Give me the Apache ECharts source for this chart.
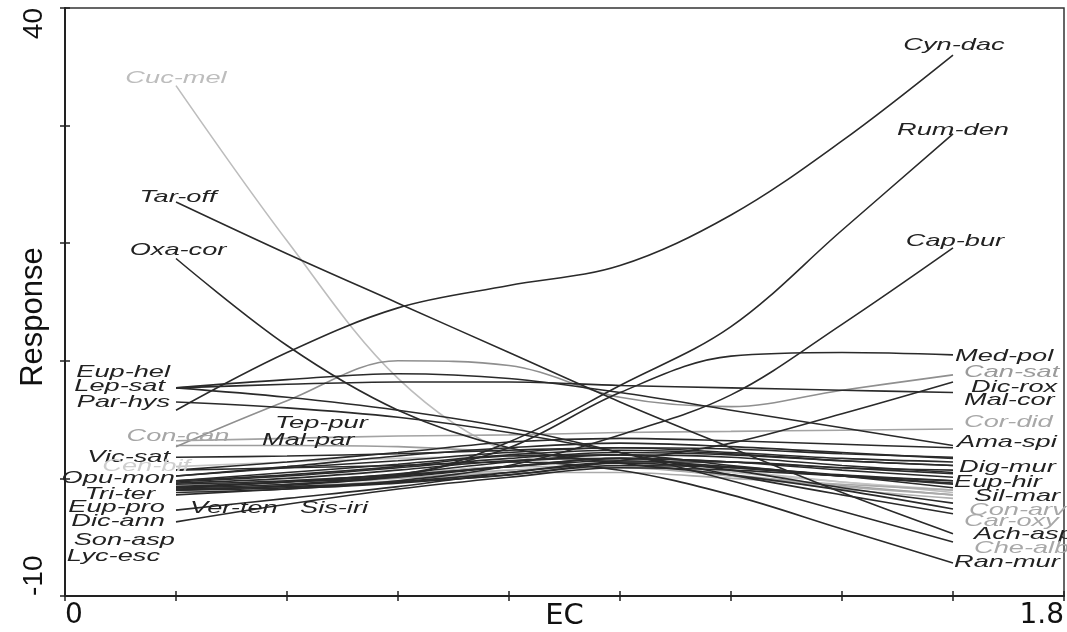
<!DOCTYPE html>
<html>
<head>
<meta charset="utf-8">
<title>Species response along EC</title>
<script src="https://cdn.jsdelivr.net/npm/echarts@6/dist/echarts.min.js"></script>
<style>
  html, body { margin: 0; padding: 0; background: #fff; }
  #chart { width: 1067px; height: 632px; }
</style>
</head>
<body>
<div id="chart"></div>
<script>
// EC gradient positions where each response curve is read
const ec = [0.2, 0.4, 0.6, 0.8, 1.0, 1.2, 1.4, 1.6];

// fitted responses, one array per species
const cucMel = [33.4, 20.2, 8.5, 2.2, 1.0, 0.6, -0.3, -1.2];
const tarOff = [23.5, 19.1, 14.9, 10.7, 6.5, 2.6, -1.2, -4.7];
const oxaCor = [18.7, 11.3, 5.8, 2.6, 1.3, 0.3, -1.0, -2.6];
const eupHel = [7.7, 8.4, 8.9, 8.5, 7.3, 5.8, 4.3, 2.8];
const lepSat = [7.7, 6.9, 5.8, 4.3, 2.2, -0.2, -2.8, -5.4];
const parHys = [6.5, 6.0, 5.2, 3.9, 2.2, 0.3, -1.4, -3.0];
const conCan = [2.8, 2.8, 2.7, 2.2, 1.4, 0.3, -0.6, -1.4];
const vicSat = [1.8, 1.9, 2.1, 2.4, 2.6, 2.5, 2.1, 1.8];
const cenBif = [1.0, 1.4, 1.7, 1.9, 1.4, 0.5, -0.3, -1.0];
const opuMon = [0.2, 0.9, 1.5, 2.2, 2.6, 2.2, 1.7, 1.4];
const triTer = [-1.0, -0.6, 0.1, 1.0, 1.7, 1.4, 0.9, 0.4];
const eupPro = [-2.7, -1.7, -0.7, 0.5, 1.4, 1.4, 0.9, 0.7];
const dicAnn = [-3.7, -2.2, -0.9, 0.1, 0.9, 0.7, 0.2, -0.2];
const sonAsp = [-0.5, -0.2, 0.3, 1.0, 1.7, 1.4, 0.7, 0.1];
const lycEsc = [-1.2, -0.9, -0.3, 0.5, 1.3, 0.9, 0.2, -0.4];
const tepPur = [-0.2, 0.5, 1.2, 2.0, 2.4, 2.1, 1.5, 1.1];
const malPar = [0.2, 1.0, 1.9, 2.6, 3.0, 2.7, 2.2, 1.7];
const verTen = [-0.8, -0.3, 0.4, 1.4, 2.0, 1.8, 1.1, 0.5];
const sisIri = [-1.4, -0.9, -0.4, 0.3, 1.1, 0.9, 0.2, -0.5];
const cynDac = [5.8, 10.7, 14.5, 16.4, 18.1, 22.4, 28.7, 36.0];
const rumDen = [-0.8, -0.3, 0.2, 3.1, 7.9, 12.9, 21.1, 29.3];
const capBur = [-1.0, -0.8, -0.2, 1.1, 3.7, 7.1, 13.1, 19.6];
const medPol = [-0.8, -0.5, 0.3, 2.6, 7.3, 10.4, 10.7, 10.5];
const canSat = [2.7, 6.6, 10.0, 9.6, 6.9, 6.1, 7.5, 8.8];
const dicRox = [-0.9, -0.7, -0.3, 0.3, 1.5, 3.0, 5.5, 8.2];
const malCor = [7.7, 8.0, 8.2, 8.2, 7.9, 7.7, 7.5, 7.3];
const corDid = [3.2, 3.4, 3.6, 3.7, 3.9, 4.0, 4.1, 4.2];
const amaSpi = [0.7, 1.4, 2.2, 3.1, 3.4, 3.2, 2.9, 2.6];
const digMur = [-0.3, 0.2, 0.9, 1.7, 2.2, 2.0, 1.5, 1.1];
const eupHir = [-0.7, -0.3, 0.2, 1.0, 1.5, 1.0, 0.3, -0.2];
const silMar = [-0.4, 0.0, 0.7, 1.5, 1.7, 0.7, -0.8, -2.1];
const conArv = [-0.9, -0.5, 0.0, 0.7, 0.9, 0.2, -0.7, -1.4];
const carOxy = [-0.6, -0.2, 0.3, 1.0, 1.0, 0.2, -0.9, -1.7];
const achAsp = [-0.2, 0.3, 1.0, 1.9, 2.0, 1.1, 0.2, -0.8];
const cheAlb = [-1.0, -0.7, -0.2, 0.5, 0.5, 0.0, -0.5, -1.0];
const ranMur = [0.7, 0.9, 1.1, 1.4, 0.7, -1.4, -4.3, -7.2];

const curves = [
  ['Cuc-mel', cucMel], ['Tar-off', tarOff], ['Oxa-cor', oxaCor], ['Eup-hel', eupHel],
  ['Lep-sat', lepSat], ['Par-hys', parHys], ['Con-can', conCan], ['Vic-sat', vicSat],
  ['Cen-bif', cenBif], ['Opu-mon', opuMon], ['Tri-ter', triTer], ['Eup-pro', eupPro],
  ['Dic-ann', dicAnn], ['Son-asp', sonAsp], ['Lyc-esc', lycEsc], ['Tep-pur', tepPur],
  ['Mal-par', malPar], ['Ver-ten', verTen], ['Sis-iri', sisIri], ['Cyn-dac', cynDac],
  ['Rum-den', rumDen], ['Cap-bur', capBur], ['Med-pol', medPol], ['Can-sat', canSat],
  ['Dic-rox', dicRox], ['Mal-cor', malCor], ['Cor-did', corDid], ['Ama-spi', amaSpi],
  ['Dig-mur', digMur], ['Eup-hir', eupHir], ['Sil-mar', silMar], ['Con-arv', conArv],
  ['Car-oxy', carOxy], ['Ach-asp', achAsp], ['Che-alb', cheAlb], ['Ran-mur', ranMur]
];

// grey species (line colour, label colour)
const greys = {
  'Cuc-mel': ['#bdbdbd', '#bdbdbd'],
  'Con-can': ['#9c9c9c', '#a6a6a6'],
  'Cen-bif': ['#c6c6c6', '#cfcfcf'],
  'Can-sat': ['#8f8f8f', '#9a9a9a'],
  'Cor-did': ['#a3a3a3', '#a8a8a8'],
  'Con-arv': ['#ababab', '#a8a8a8'],
  'Car-oxy': ['#b0b0b0', '#a8a8a8'],
  'Che-alb': ['#ababab', '#a8a8a8']
};

// where each name sits: curve end, pixel shift x/y, text alignment
const labelPlacement = {
  'Cuc-mel': ['start', 0, -7, 'center'],
  'Tar-off': ['start', 2, -5, 'center'],
  'Oxa-cor': ['start', 2, -8, 'center'],
  'Eup-hel': ['start', -6, -16, 'right'],
  'Lep-sat': ['start', -11, -2, 'right'],
  'Par-hys': ['start', -6, 0, 'right'],
  'Con-can': ['start', 2, -9, 'center'],
  'Vic-sat': ['start', -6, 0, 'right'],
  'Cen-bif': ['start', 14, 0, 'right'],
  'Opu-mon': ['start', -1, 2, 'right'],
  'Tri-ter': ['start', -21, 4, 'right'],
  'Eup-pro': ['start', -11, -3, 'right'],
  'Dic-ann': ['start', -11, -1, 'right'],
  'Son-asp': ['start', -1, 56, 'right'],
  'Lyc-esc': ['start', -16, 64, 'right'],
  'Tep-pur': ['start', 99, -57, 'left'],
  'Mal-par': ['start', 86, -36, 'left'],
  'Ver-ten': ['start', 14, 20, 'left'],
  'Sis-iri': ['start', 124, 13, 'left'],
  'Cyn-dac': ['end', 1, -10, 'center'],
  'Rum-den': ['end', 0, -4, 'center'],
  'Cap-bur': ['end', 2, -7, 'center'],
  'Med-pol': ['end', 2, 1, 'left'],
  'Can-sat': ['end', 11, -3, 'left'],
  'Dic-rox': ['end', 18, 5, 'left'],
  'Mal-cor': ['end', 11, 8, 'left'],
  'Cor-did': ['end', 11, -7, 'left'],
  'Ama-spi': ['end', 4, -6, 'left'],
  'Dig-mur': ['end', 6, 2, 'left'],
  'Eup-hir': ['end', 1, 2, 'left'],
  'Sil-mar': ['end', 21, -7, 'left'],
  'Con-arv': ['end', 16, 15, 'left'],
  'Car-oxy': ['end', 11, 23, 'left'],
  'Ach-asp': ['end', 21, 46, 'left'],
  'Che-alb': ['end', 21, 58, 'left'],
  'Ran-mur': ['end', 1, -1, 'left']
};

const ink = '#222';
const chart = echarts.init(document.getElementById('chart'));

const series = curves.map(([name, values]) => ({
  name,
  type: 'line',
  data: ec.map((x, i) => [x, values[i]]),
  smooth: 0.35,
  symbol: 'none',
  silent: true,
  z: greys[name] ? 2 : 3,
  lineStyle: { color: greys[name] ? greys[name][0] : '#2a2a2a', width: 1.6 }
}));

const tickStyle = { color: ink, width: 1.5 };

chart.setOption({
  animation: false,
  backgroundColor: '#fff',
  grid: {
    left: 65, right: 3, top: 8, bottom: 36,
    outerBoundsMode: 'none',
    containLabel: false,
    show: true, borderColor: '#333', borderWidth: 1.5
  },
  xAxis: [
    {
      type: 'value', min: 0, max: 1.8, interval: 0.2,
      axisLine: { onZero: false, lineStyle: { color: ink, width: 2 } },
      axisTick: { show: true, length: 5, lineStyle: tickStyle },
      splitLine: { show: false },
      axisLabel: {
        formatter: v => (v === 0 || Math.abs(v - 1.8) < 1e-6) ? String(v) : '',
        alignMinLabel: 'left', alignMaxLabel: 'right',
        margin: 6, fontSize: 28, color: '#111', fontFamily: 'DejaVu Sans'
      },
      name: 'EC', nameLocation: 'middle', nameGap: 6, nameMoveOverlap: false,
      nameTextStyle: { fontSize: 29, color: '#111', fontFamily: 'DejaVu Sans' }
    },
    {
      // inward half of the ticks
      type: 'value', min: 0, max: 1.8, interval: 0.2, position: 'bottom',
      axisLine: { show: false, onZero: false },
      axisTick: { show: true, inside: true, length: 5, lineStyle: tickStyle },
      axisLabel: { show: false }, splitLine: { show: false }
    }
  ],
  yAxis: [
    {
      type: 'value', min: -10, max: 40, interval: 10,
      axisLine: { show: true, onZero: false, lineStyle: { color: ink, width: 2 } },
      axisTick: { show: true, length: 5, lineStyle: tickStyle },
      splitLine: { show: false },
      axisLabel: {
        formatter: v => (v === -10 || v === 40) ? String(v) : '',
        rotate: 90, alignMinLabel: 'left', alignMaxLabel: 'right',
        margin: 17, fontSize: 28, color: '#111', fontFamily: 'Liberation Sans'
      },
      name: 'Response', nameLocation: 'middle', nameGap: 16, nameMoveOverlap: false,
      nameTextStyle: {
        fontSize: 31, color: '#111', fontFamily: 'Liberation Sans',
        padding: [0, 30, 0, 0]
      }
    },
    {
      type: 'value', min: -10, max: 40, interval: 10, position: 'left',
      axisLine: { show: false, onZero: false },
      axisTick: { show: true, inside: true, length: 5, lineStyle: tickStyle },
      axisLabel: { show: false }, splitLine: { show: false }
    }
  ],
  series
});

// species names, placed from the curve ends through the axes' own scales
const labels = curves.map(([name, values]) => {
  const [end, dx, dy, align] = labelPlacement[name];
  const i = end === 'start' ? 0 : ec.length - 1;
  const [px, py] = chart.convertToPixel({ xAxisIndex: 0, yAxisIndex: 0 }, [ec[i], values[i]]);
  return {
    type: 'text',
    x: px + dx,
    y: py + dy,
    scaleX: 1.6,
    silent: true,
    z: 10,
    style: {
      text: name,
      fill: greys[name] ? greys[name][1] : ink,
      font: 'italic 17px "Liberation Sans", Arial, sans-serif',
      textAlign: align,
      textVerticalAlign: 'middle'
    }
  };
});

chart.setOption({ graphic: labels });
</script>
</body>
</html>
